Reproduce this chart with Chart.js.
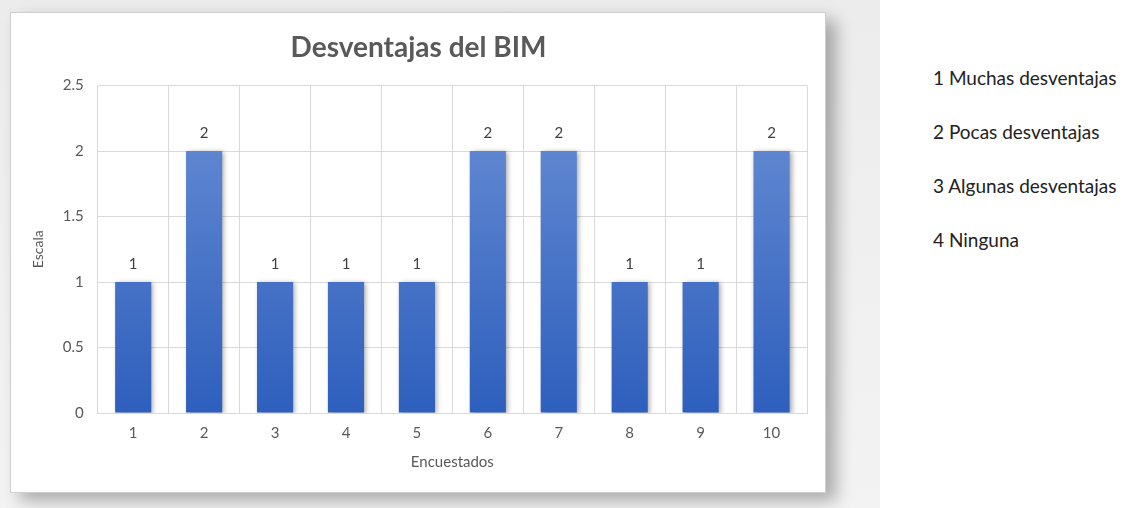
<!DOCTYPE html>
<html>
<head>
<meta charset="utf-8">
<script src="https://cdn.jsdelivr.net/npm/chart.js"></script>
<style>
	body { margin: 0; width: 1136px; height: 508px; background: #fff; font-family: Lato, 'Open Sans', sans-serif; position: relative; overflow: hidden; }
	#bg { position: absolute; left: 0; top: 0; width: 880px; height: 508px; background: linear-gradient(#ececec, #f3f3f3); }
	#box { position: absolute; left: 10px; top: 12px; width: 816px; height: 481px; background: #fff; border: 1px solid #d0d0d0; box-sizing: border-box; box-shadow: 10px 8px 16px rgba(0,0,0,0.3); }
	#side { position: absolute; left: 933px; top: 67px; font-size: 19px; color: #222; }
	#side div { height: 54px; line-height: 22px; }
</style>
</head>
<body>
<div id="bg"></div>
<div id="box"><canvas id="myChart" width="816" height="481"></canvas></div>
<div id="side">
	<div>1 Muchas desventajas</div>
	<div>2 Pocas desventajas</div>
	<div>3 Algunas desventajas</div>
	<div>4 Ninguna</div>
</div>
<script>
const encuestados = ['1', '2', '3', '4', '5', '6', '7', '8', '9', '10']
const escala = [1, 2, 1, 1, 1, 2, 2, 1, 1, 2]

const fuente = 'Lato, "Open Sans", sans-serif'

const valueLabels = {
	id: 'valueLabels',
	beforeDatasetsDraw(chart) {
		const ctx = chart.ctx
		ctx.save()
		ctx.shadowColor = 'rgba(0,0,0,0.35)'
		ctx.shadowBlur = 5
		ctx.shadowOffsetX = 2
		ctx.shadowOffsetY = 1
	},
	afterDatasetsDraw(chart) {
		const ctx = chart.ctx
		ctx.restore()
		ctx.save()
		ctx.font = '15px ' + fuente
		ctx.fillStyle = '#404040'
		ctx.textAlign = 'center'
		ctx.textBaseline = 'bottom'
		chart.getDatasetMeta(0).data.forEach((bar, i) => {
			ctx.fillText(escala[i], bar.x, bar.y - 10)
		})
		ctx.restore()
	}
}

function getChart() {
	const context = document.getElementById('myChart')
	const data = {
		labels: encuestados,
		datasets: [
			{
				label: 'Escala',
				data: escala,
				backgroundColor: (c) => {
					const area = c.chart.chartArea
					if (!area) return '#4472c4'
					const g = c.chart.ctx.createLinearGradient(0, area.top, 0, area.bottom)
					g.addColorStop(0, '#6a8fd4')
					g.addColorStop(1, '#2e5fbd')
					return g
				},
				categoryPercentage: 1,
				barPercentage: 0.51,
			}
		]
	}
	const config = {
		type: 'bar',
		data: data,
		plugins: [valueLabels],
		options: {
			responsive: false,
			animation: false,
			layout: { padding: { left: 19, right: 20, top: 0, bottom: 19 } },
			plugins: {
				legend: { display: false },
				tooltip: { enabled: false },
				title: {
					display: true,
					text: 'Desventajas del BIM',
					color: '#595959',
					font: { family: fuente, size: 28, weight: 'bold' },
					padding: { top: 18, bottom: 21 }
				}
			},
			scales: {
				x: {
					grid: { color: '#d9d9d9', offset: true, drawTicks: false },
					border: { color: '#d9d9d9' },
					ticks: { color: '#595959', font: { size: 15, family: fuente }, padding: 11 },
					title: { display: true, text: 'Encuestados', color: '#595959', font: { size: 15, family: fuente }, padding: { top: 0 } }
				},
				y: {
					min: 0,
					max: 2.5,
					grid: { color: '#d9d9d9', drawTicks: false },
					border: { display: false },
					ticks: {
						stepSize: 0.5,
						color: '#595959',
						font: { size: 15, family: fuente },
						padding: 14,
						callback: (v) => String(v)
					},
					title: { display: true, text: 'Escala', color: '#595959', font: { size: 14, family: fuente }, padding: { top: 0, bottom: 2 } }
				}
			}
		}
	}
	const myChart = new Chart(context, config)
}
getChart()
</script>
</body>
</html>
